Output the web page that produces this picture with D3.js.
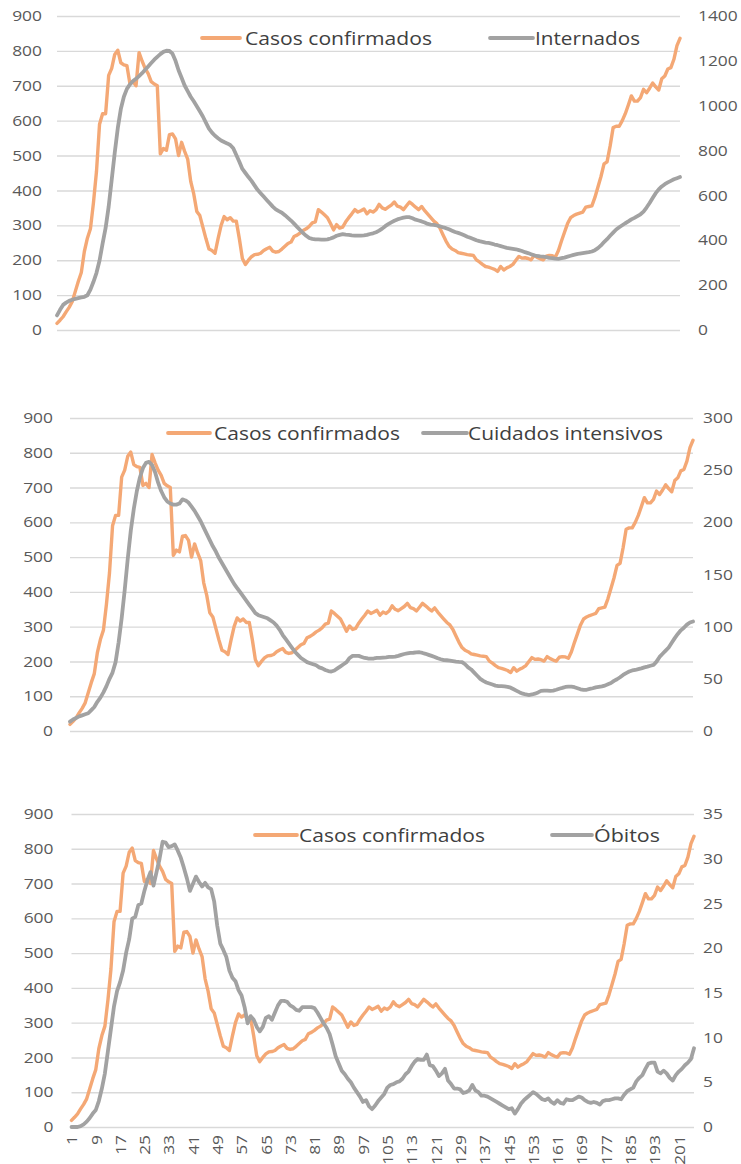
<!DOCTYPE html>
<html><head><meta charset="utf-8">
<script src="https://cdn.jsdelivr.net/npm/d3@7"></script>
<style>body{margin:0;background:#fff}svg{display:block}</style>
</head><body>
<svg id="c" width="741" height="1164"></svg>
<script>
// ---- data (day 1 .. 206) ----
const casos = [
19,28,38,52,65,81,110,139,165,225,
263,290,365,455,590,620,620,730,750,790,
802,766,760,758,706,712,700,795,771,750,
735,712,705,700,505,520,515,560,562,548,
500,538,512,490,426,390,340,328,295,262,
232,228,220,262,300,325,316,322,312,312,
262,205,188,200,210,216,217,220,228,233,
237,226,223,225,232,240,248,252,268,272,
278,285,290,297,307,310,345,338,330,322,
305,287,302,292,295,310,322,333,345,338,
342,347,333,342,338,345,360,350,346,352,
358,367,355,352,345,356,367,360,352,345,
354,342,332,322,312,305,292,273,255,240,
232,228,222,220,218,216,215,214,201,195,
188,182,180,177,174,168,182,172,178,182,
188,200,211,206,207,205,201,214,208,204,
201,212,214,213,209,228,255,280,305,322,
328,332,335,338,352,354,356,380,410,440,
476,482,527,580,584,584,600,620,645,671,
656,656,666,690,680,693,708,697,688,720,
728,748,752,776,815,836];

const internados = [
65,90,112,122,130,135,139,142,145,148,
155,180,215,255,310,385,455,550,670,790,
900,985,1040,1075,1095,1110,1120,1132,1145,1160,
1175,1190,1205,1218,1230,1240,1245,1244,1232,1200,
1158,1125,1090,1065,1040,1020,998,975,952,925,
898,880,866,855,845,838,832,825,810,780,
750,718,700,682,665,645,625,610,595,580,
565,550,538,530,523,512,500,488,474,460,
446,432,420,410,406,404,404,403,403,404,
408,413,420,424,427,425,424,422,421,421,
421,422,424,428,431,436,443,452,463,472,
480,487,493,497,501,503,503,498,492,488,
484,479,473,470,469,466,462,458,454,449,
443,437,433,428,422,416,411,406,400,396,
393,390,388,385,381,378,374,370,366,364,
362,360,356,352,347,343,338,333,330,328,
327,325,322,320,318,317,320,323,327,331,
335,338,341,343,345,347,350,356,365,377,
392,405,420,434,448,458,467,476,484,493,
500,508,516,528,546,566,588,610,627,640,
650,658,665,672,677,682];

const cuidados = [
9,11,12.5,14,15,16,17,20,23,28,
32,37,43,50,56,66,85,108,135,165,
192,213,230,243,252,257,258,255,248,238,
230,224,220,218,217,217,218,222,221,219,
215,211,206,201,195,189,183,177,172,166,
161,156,151,146,141,137,133,129,125,121,
117,113,111,110,109,108,106,104,101,97,
92,88,84,80,76,73,70,68,66,65,
64,63,61,60,58.5,57.5,57,58,60,62,
64,66,70,72,72,72,71,70,69.5,69.4,
69.5,70,70,70.3,70.6,71,71,71.3,72,73,
73.8,74.3,74.8,75,75.3,75.5,74.8,74,73,72,
71,69.7,68.8,68,67.8,67.5,67,66.5,66.2,66,
64,61,59,56,53,50,48,46.5,45.5,44.5,
43.5,43,43,42.8,42.3,41.5,40,38.5,37,35.8,
35,34.5,35,35.8,37,38.5,38.7,38.7,38.5,38.7,
39.5,40.5,41.3,42.2,42.5,42.5,42,41,40,39.5,
39.5,40.3,41,41.8,42.3,42.8,43.5,44.8,46,48,
49.6,51.5,53.7,55.5,57,58,58.5,59.3,60,61,
61.7,62.5,63.3,66.5,71,74,77,80,84.5,89,
93,96.5,99,102,104,105];

const obitos = [
0,0,0,0.1,0.3,0.6,1.0,1.5,1.9,2.9,
4.3,6.0,8.5,11.0,13.5,15.2,16.2,17.5,19.5,21.0,
23.3,23.5,24.8,25.0,26.4,27.6,28.5,27.0,28.5,30.0,
31.9,31.8,31.3,31.4,31.6,30.9,30.1,29.0,27.8,26.4,
27.2,28.0,27.4,26.9,27.3,26.8,26.6,25.2,22.5,20.5,
19.8,19.0,17.5,16.7,16.3,15.3,14.7,13.4,11.6,12.4,
12.0,11.2,10.7,11.2,12.2,12.4,12.0,12.8,13.6,14.1,
14.1,14.0,13.6,13.4,13.1,13.0,13.4,13.4,13.4,13.4,
13.3,12.8,12.2,11.6,11.1,10.4,9.2,7.9,7.1,6.3,
5.9,5.4,5.0,4.4,3.9,3.4,2.8,3.0,2.3,2.0,
2.4,2.9,3.3,3.7,4.4,4.7,4.8,5.0,5.1,5.4,
5.9,6.2,6.8,7.3,7.6,7.5,7.5,8.1,6.9,6.8,
6.3,5.7,6.0,6.5,5.2,4.8,4.3,4.3,4.2,3.8,
3.9,4.1,4.7,4.1,3.9,3.5,3.5,3.4,3.2,3.0,
2.8,2.6,2.4,2.2,2.0,2.1,1.5,2.0,2.6,3.0,
3.3,3.6,3.9,3.7,3.4,3.1,3.0,3.2,2.8,2.6,
3.0,2.7,2.6,3.1,3.0,3.0,3.2,3.4,3.3,3.0,
2.8,2.7,2.8,2.7,2.5,2.9,3.0,3.0,3.1,3.2,
3.2,3.1,3.6,4.0,4.2,4.4,5.1,5.5,5.8,6.5,
7.1,7.2,7.2,6.2,6.0,6.3,6.0,5.5,5.2,5.8,
6.2,6.5,6.9,7.2,7.6,8.8];

const leftTicks = [0,100,200,300,400,500,600,700,800,900];
const internadosTicks = [0,200,400,600,800,1000,1200,1400];
const cuidadosTicks = [0,50,100,150,200,250,300];
const obitosTicks = [0,5,10,15,20,25,30,35];
const xTickLabels = [1,9,17,25,33,41,49,57,65,73,81,89,97,105,113,121,129,137,145,153,161,169,177,185,193,201];
const casosName = "Casos confirmados";
const internadosName = "Internados";
const cuidadosName = "Cuidados intensivos";
const obitosName = "Óbitos";

const days = casos.map((_, i) => i + 1);

// ---- styling ----
const ORANGE = "#f4a875";
const GRAY = "#a2a2a2";
const GRID = "#d9d9d9";
const TICK_COLOR = "#595959";
const LEG_COLOR = "#404040";
const FONT = "'Open Sans', 'DejaVu Sans', sans-serif";
const TICK_FS = 14.5, SX = 1.2;
const fmt = d3.format("d");

const svg = d3.select("#c");

const panels = [
  {values: internados, name: internadosName, rTicks: internadosTicks,
   x0: 57, x1: 680, yTop: 16, yBot: 330, lPad: 15, rPad: 18, xLabels: false,
   legY: 38, leg: [[202, 240, 245, 432], [490, 533, 535, 640]]},
  {values: cuidados, name: cuidadosName, rTicks: cuidadosTicks,
   x0: 70, x1: 693, yTop: 418, yBot: 731, lPad: 17, rPad: 10, xLabels: false,
   legY: 433, leg: [[168, 210, 214, 400], [423, 467, 468, 663]]},
  {values: obitos, name: obitosName, rTicks: obitosTicks,
   x0: 71.5, x1: 694, yTop: 814, yBot: 1127, lPad: 18, rPad: 9, xLabels: true,
   legY: 835, leg: [[255, 297, 299, 485], [552, 592, 594, 660]]}
];

panels.forEach(p => {
  const g = svg.append("g");
  const x = d3.scaleLinear().domain([1, days.length]).range([p.x0, p.x1]);
  const yL = d3.scaleLinear().domain([0, 900]).range([p.yBot, p.yTop]);
  const yR = d3.scaleLinear().domain([0, d3.max(p.rTicks)]).range([p.yBot, p.yTop]);

  // gridlines + left labels
  const la = g.append("g").attr("transform", `translate(${p.x0},0)`)
    .call(d3.axisLeft(yL).tickValues(leftTicks).tickFormat(fmt)
      .tickSize(-(p.x1 - p.x0)).tickPadding(p.lPad));
  la.select(".domain").remove();
  la.attr("font-family", FONT).attr("font-size", TICK_FS);
  la.selectAll("line").attr("stroke", GRID).attr("stroke-width", 1.4);
  la.selectAll("text").attr("fill", TICK_COLOR)
    .attr("x", -p.lPad / SX).attr("transform", `scale(${SX},1)`);

  // right labels
  const ra = g.append("g").attr("transform", `translate(${p.x1},0)`)
    .call(d3.axisRight(yR).tickValues(p.rTicks).tickFormat(fmt)
      .tickSize(0).tickPadding(p.rPad));
  ra.select(".domain").remove();
  ra.attr("font-family", FONT).attr("font-size", TICK_FS);
  ra.selectAll("text").attr("fill", TICK_COLOR)
    .attr("x", p.rPad / SX).attr("transform", `scale(${SX},1)`);

  if (p.xLabels) {
    const xa = g.append("g").attr("transform", `translate(0,${p.yBot})`)
      .call(d3.axisBottom(x).tickValues(xTickLabels).tickFormat(fmt).tickSize(0));
    xa.select(".domain").remove();
    xa.attr("font-family", FONT).attr("font-size", TICK_FS);
    xa.selectAll("text").attr("fill", TICK_COLOR)
      .attr("transform", `rotate(-90) scale(${SX},1)`)
      .attr("x", -8 / SX).attr("y", 0).attr("dy", "0.36em")
      .style("text-anchor", "end");
  }

  // lines
  const lineL = d3.line().x((d, i) => x(days[i])).y(d => yL(d));
  const lineR = d3.line().x((d, i) => x(days[i])).y(d => yR(d));
  g.append("path").datum(casos).attr("d", lineL)
    .attr("fill", "none").attr("stroke", ORANGE).attr("stroke-width", 3.4)
    .attr("stroke-linejoin", "round").attr("stroke-linecap", "round");
  g.append("path").datum(p.values).attr("d", lineR)
    .attr("fill", "none").attr("stroke", GRAY).attr("stroke-width", 3.8)
    .attr("stroke-linejoin", "round").attr("stroke-linecap", "round");

  // legend
  const items = [[casosName, ORANGE], [p.name, GRAY]];
  items.forEach(([label, col], k) => {
    const [lx0, lx1, tx, tx1] = p.leg[k];
    g.append("line").attr("x1", lx0).attr("x2", lx1).attr("y1", p.legY).attr("y2", p.legY)
      .attr("stroke", col).attr("stroke-width", 3.8).attr("stroke-linecap", "round");
    g.append("text").attr("x", tx).attr("y", p.legY + 6.6)
      .attr("font-family", FONT).attr("font-size", 18.5).attr("fill", LEG_COLOR)
      .attr("textLength", tx1 - tx).attr("lengthAdjust", "spacingAndGlyphs")
      .text(label);
  });
});
</script>
</body></html>
